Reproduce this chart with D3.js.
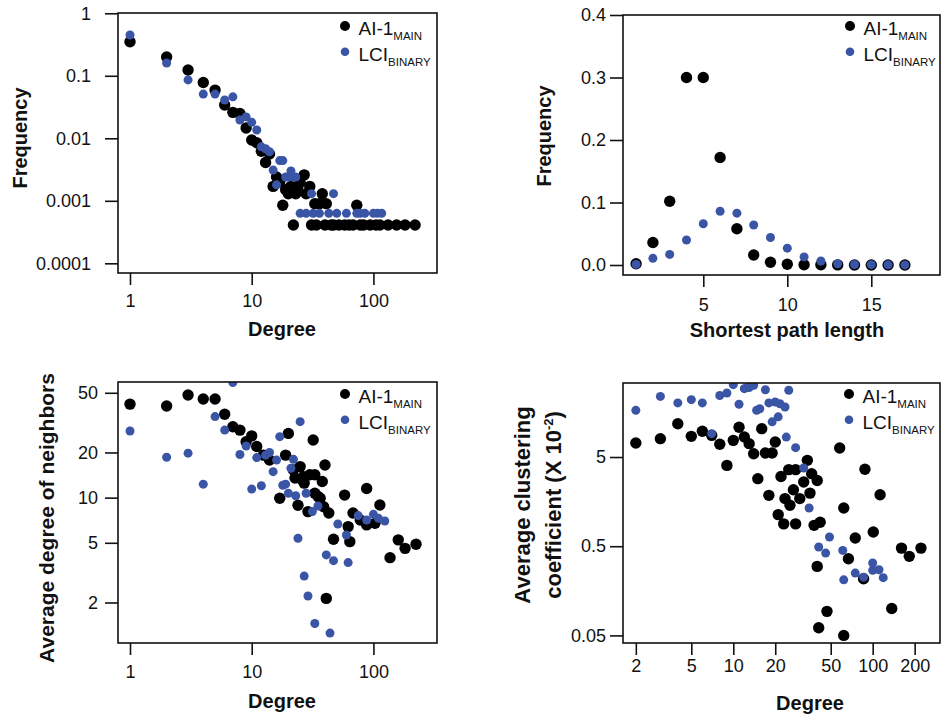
<!DOCTYPE html>
<html>
<head>
<meta charset="utf-8">
<script src="https://cdn.jsdelivr.net/npm/d3@7"></script>
<style>
body { margin: 0; background: #fff; }
svg text { font-family: "Liberation Sans", Arial, Helvetica, sans-serif; fill: #111; }
</style>
</head>
<body>
<div id="chart"></div>
<script>
var W = 942, H = 721;
var BLACK = "#000", BLUE = "#3a55a5";

// top left: degree distribution
var ddDegMain = [1,2,3,4,5,6,7,8,9,10,11,12,13,14,15,16,17,18,19,20,21,22,23,24,25,27,28,30,31,33,34,36,38,40,41,45,47,52,58,63,68,73,78,83,94,105,113,132,155,182,220];
var ddFreqMain = [0.35,0.2,0.124,0.078,0.059,0.034,0.026,0.025,0.0146,0.0094,0.0085,0.0062,0.0041,0.0056,0.0017,0.0024,0.002,0.00085,0.0015,0.0013,0.0017,0.00041,0.0013,0.0017,0.002,0.0026,0.0013,0.0017,0.00041,0.0009,0.00041,0.0009,0.0013,0.00041,0.0009,0.00041,0.00041,0.00041,0.00041,0.00041,0.00041,0.00085,0.00041,0.00041,0.00041,0.00041,0.00041,0.00041,0.00041,0.00041,0.00041];
var ddDegBin = [1,2,3,4,5,6,7,8,9,10,11,12,13,14,15,16,17,18,19,20,21,22,23,25,28,31,32,36,43,47,50,60,73,78,85,100,108,117];
var ddFreqBin = [0.45,0.16,0.086,0.051,0.051,0.041,0.046,0.0196,0.022,0.018,0.0136,0.0073,0.0068,0.0061,0.0031,0.0018,0.0044,0.0044,0.0024,0.0024,0.003,0.0024,0.0024,0.00063,0.00063,0.0013,0.00063,0.00063,0.00063,0.0013,0.00063,0.00063,0.00063,0.00063,0.00063,0.00063,0.00063,0.00063];

// top right: shortest path length distribution
var spLen = [1,2,3,4,5,6,7,8,9,10,11,12,13,14,15,16,17];
var spFreqMain = [0.002,0.036,0.102,0.30,0.30,0.172,0.058,0.016,0.0043,0.0012,0.0005,0.0003,0.0002,0.0001,0.0001,0.0001,0.0001];
var spFreqBin = [0.001,0.0107,0.017,0.040,0.066,0.086,0.083,0.064,0.044,0.027,0.013,0.0064,0.002,0.0008,0.0005,0.0003,0.0002];

// bottom left: average degree of neighbors
var knDegMain = [1,2,3,4,5,6,7,8,9,10,11,12.5,14,17,19,20,22,22.7,24,25,26,26.6,27,29,30,32,33,33,35,36.5,38,39,40,43,41,47,58,62,64,68,78,88,88,103,113,137,160,182,224];
var knMain = [42,40.8,48.3,45.5,45.5,36,29.7,28.2,23.6,25.8,21.9,19.2,17.8,9.9,19.2,26.8,15.3,13.5,8.9,16.1,13.1,13.8,12.5,8.07,14.2,24.2,10.7,14.2,10.2,9.9,12.8,8.7,16.5,7.9,2.13,5.28,10.4,6.41,5.09,7.9,7.1,11.5,6.58,6.74,8.93,3.98,5.23,4.59,4.89];
var knDegBin = [1,2,3,4,5,6,7,8,9,10,11,12,13,14,15,16,17,18,19,20,21,22,23,24,25,27,28,29,31.5,33,35,41,44,47,51,60,62,75,88,100,110,124];
var knBin = [27.8,18.6,19.8,12.3,34.7,28.2,58.5,19.4,22.1,11.4,18.5,12.0,19.2,20.0,14.9,17.8,25.5,12.1,12.3,10.7,15.7,18,10.3,5.36,32.1,3.0,10.7,2.21,8.07,1.45,8.8,4.15,1.25,3.8,6.67,5.64,3.69,7.59,7.1,7.74,7.28,6.99];

// bottom right: average clustering coefficient (x 10^-2)
var ccDegMain = [2,3,4,5,6,7,8,9,10,11,12,13,14,15,16,17,18,19,20,21,22,23,23.5,25,25.5,27,28,28,30,32,34,35.5,36.5,38,40,42,40,41,47,58,62,62,67,75,88,86,101,113,137,161,183,222];
var ccMain = [7.17,8.03,11.8,8.53,9.71,8.75,6.94,4.03,7.69,10.8,8.37,7.06,5.45,2.86,10.4,5.54,1.86,5.54,7.37,1.13,3.03,0.89,1.71,3.61,1.44,2.15,3.61,0.89,1.71,2.62,4.59,1.97,3.25,0.857,2.73,0.93,0.297,0.061,0.093,6.3,1.34,0.05,0.362,0.618,3.64,0.216,0.721,1.89,0.1,0.476,0.385,0.476];
var ccDegBin = [2,3,4,5,6,7,8,9,10,11,12,12.5,13,14,14.7,15.5,17,18,19,20,21,21.6,23.5,24,25,28,32,35,41,46,49,61,62,75,86,100,100,111,119];
var ccBin = [16.7,23.9,20.2,22,20.2,9.14,24.5,26.1,32.4,19.5,29.2,30,30,31.9,16.7,17.4,28.4,20.2,12.4,20.7,14.1,19.8,18.2,8.37,28,6.37,3.77,1.34,0.49,0.419,0.634,0.449,0.21,0.25,0.225,0.324,0.268,0.272,0.222];

var legendMain = "AI-1", legendMainSub = "MAIN";
var legendBin = "LCI", legendBinSub = "BINARY";

var svg = d3.select("#chart").append("svg").attr("width", W).attr("height", H);

var panels = [
  { id: "a", box: [118, 437, 13, 273], xlog: true, ylog: true,
    xdom: [0.797, 333], ydom: [7e-5, 1.01],
    xticks: [1, 10, 100], xlabels: ["1", "10", "100"],
    yticks: [1, 0.1, 0.01, 0.001, 0.0001], ylabels: ["1", "0.1", "0.01", "0.001", "0.0001"],
    xpad: 9, ypad: 14, xtitle: "Degree", xtx: 282, xty: 336,
    ytitle: ["Frequency"], ytx: [27], yty: 138, yfs: 20, leg: [345, 26],
    main: [ddDegMain, ddFreqMain], bin: [ddDegBin, ddFreqBin] },
  { id: "b", box: [623, 940, 15, 275], xlog: false, ylog: false,
    xdom: [0.22, 19.09], ydom: [-0.016, 0.4],
    xticks: [5, 10, 15], xlabels: ["5", "10", "15"],
    yticks: [0, 0.1, 0.2, 0.3, 0.4], ylabels: ["0.0", "0.1", "0.2", "0.3", "0.4"],
    xpad: 11, ypad: 4, xtitle: "Shortest path length", xtx: 787, xty: 337,
    ytitle: ["Frequency"], ytx: [551], yty: 136, yfs: 20, leg: [850, 26],
    main: [spLen, spFreqMain], bin: [spLen, spFreqBin] },
  { id: "c", box: [118, 437, 382, 643], xlog: true, ylog: true,
    xdom: [0.797, 333], ydom: [1.074, 59.0],
    xticks: [1, 10, 100], xlabels: ["1", "10", "100"],
    yticks: [2, 5, 10, 20, 50], ylabels: ["2", "5", "10", "20", "50"],
    xpad: 10, ypad: 7, xtitle: "Degree", xtx: 282, xty: 708,
    ytitle: ["Average degree of neighbors"], ytx: [54], yty: 518, yfs: 21, leg: [345, 394],
    main: [knDegMain, knMain], bin: [knDegBin, knBin] },
  { id: "d", box: [623, 940, 383, 643], xlog: true, ylog: true,
    xdom: [1.618, 304], ydom: [0.0411, 33.8],
    xticks: [2, 5, 10, 20, 50, 100, 200], xlabels: ["2", "5", "10", "20", "50", "100", "200"],
    yticks: [0.05, 0.5, 5], ylabels: ["0.05", "0.5", "5"],
    xpad: 4, ypad: 4, xtitle: "Degree", xtx: 810, xty: 710,
    ytitle: ["Average clustering", "coefficient (X 10"], ytx: [530, 561], yty: 505, yfs: 22, leg: [849, 394],
    main: [ccDegMain, ccMain], bin: [ccDegBin, ccBin] }
];

function drawPanel(p) {
  var b = p.box;
  var x = (p.xlog ? d3.scaleLog() : d3.scaleLinear()).domain(p.xdom).range([b[0], b[1]]);
  var y = (p.ylog ? d3.scaleLog() : d3.scaleLinear()).domain(p.ydom).range([b[3], b[2]]);
  var g = svg.append("g");

  svg.append("clipPath").attr("id", "clip-" + p.id)
    .append("rect").attr("x", b[0]).attr("y", b[2]).attr("width", b[1] - b[0]).attr("height", b[3] - b[2]);

  var dots = g.append("g").attr("clip-path", "url(#clip-" + p.id + ")");
  [[p.main, BLACK, 5.7], [p.bin, BLUE, 4.5]].forEach(function(s) {
    dots.selectAll(null).data(d3.zip(s[0][0], s[0][1])).enter().append("circle")
      .attr("cx", function(d) { return x(d[0]); })
      .attr("cy", function(d) { return y(d[1]); })
      .attr("r", s[2])
      .attr("fill", s[1]);
  });

  var xa = d3.axisBottom(x).tickValues(p.xticks)
    .tickFormat(function(d, i) { return p.xlabels[i]; })
    .tickSize(12).tickPadding(p.xpad);
  var ya = d3.axisLeft(y).tickValues(p.yticks)
    .tickFormat(function(d, i) { return p.ylabels[i]; })
    .tickSize(13).tickPadding(p.ypad);

  [g.append("g").attr("transform", "translate(0," + b[3] + ")").call(xa),
   g.append("g").attr("transform", "translate(" + b[0] + ",0)").call(ya)].forEach(function(a) {
    a.select(".domain").remove();
    a.selectAll("line").attr("stroke", "#111").attr("stroke-width", 1.6);
    a.selectAll("text").attr("font-size", "18px").attr("fill", "#222");
    a.attr("font-family", null);
  });

  g.append("rect").attr("x", b[0]).attr("y", b[2])
    .attr("width", b[1] - b[0]).attr("height", b[3] - b[2])
    .attr("fill", "none").attr("stroke", "#111").attr("stroke-width", 1.6);

  g.append("text").attr("x", p.xtx).attr("y", p.xty)
    .attr("text-anchor", "middle").attr("font-size", "20px").attr("font-weight", "bold")
    .text(p.xtitle);

  p.ytitle.forEach(function(t, i) {
    var tt = g.append("text")
      .attr("transform", "translate(" + p.ytx[i] + "," + p.yty + ") rotate(-90)")
      .attr("text-anchor", "middle").attr("font-size", p.yfs + "px").attr("font-weight", "bold")
      .text(t);
    if (p.id == "d" && i == 1) {
      tt.append("tspan").attr("font-size", "13px").attr("dy", "-8").text("-2");
      tt.append("tspan").attr("dy", "8").text(")");
    }
  });

  // legend
  var lx = p.leg[0], ly = p.leg[1];
  var leg = g.append("g");
  [[legendMain, legendMainSub, BLACK, 5, 0], [legendBin, legendBinSub, BLUE, 4.3, 25.7]].forEach(function(l) {
    leg.append("circle").attr("cx", lx).attr("cy", ly + l[4]).attr("r", l[3]).attr("fill", l[2]);
    var t = leg.append("text").attr("x", lx + 13.5).attr("y", ly + l[4] + 9).attr("font-size", "19px").text(l[0]);
    t.append("tspan").attr("font-size", "11.5px").attr("dy", "5").text(l[1]);
  });
}

panels.forEach(drawPanel);
</script>
</body>
</html>
